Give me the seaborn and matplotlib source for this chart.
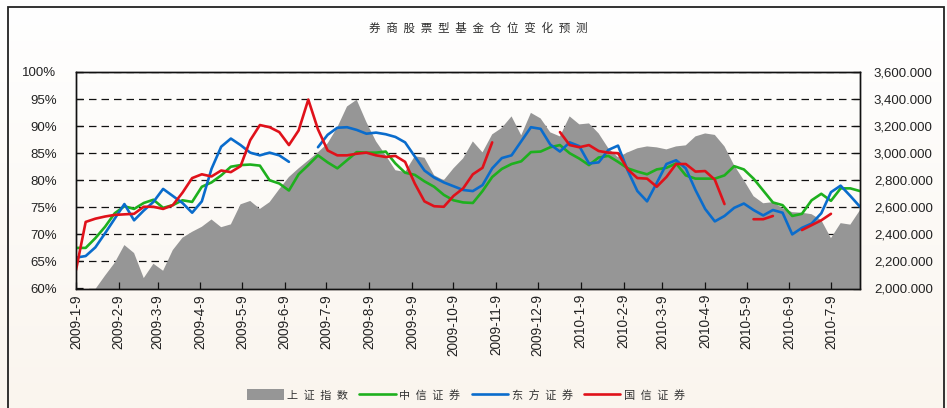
import numpy as np
import pandas as pd
import matplotlib
matplotlib.use("Agg")
import matplotlib.pyplot as plt
import seaborn as sns
from matplotlib.patches import Patch, Rectangle
from matplotlib.lines import Line2D

nan = np.nan

# ---------------- data ----------------
weeks = pd.date_range("2009-01-09", "2010-07-30", freq="W-FRI")

sh_index = [1900, 1950, 1995, 2095, 2190, 2321, 2262, 2077, 2183, 2131,
            2284, 2375, 2419, 2456, 2510, 2453, 2474, 2622, 2647, 2588,
            2638, 2734, 2824, 2888, 2947, 3006, 3073, 3191, 3345, 3395,
            3230, 3087, 2984, 2874, 2861, 2977, 2966, 2837, 2800, 2888,
            2962, 3087, 3006, 3139, 3187, 3272, 3132, 3298, 3257, 3154,
            3124, 3272, 3213, 3220, 3146, 3036, 2970, 3006, 3036, 3050,
            3043, 3028, 3050, 3058, 3124, 3146, 3135, 3050, 2910, 2800,
            2682, 2630, 2638, 2593, 2564, 2560, 2549, 2505, 2372, 2483,
            2472, 2579]

citic = [67.5, 67.5, 69.3, 71.4, 73.9, 75.2, 74.7, 75.8, 76.4, 74.9,
         75.4, 76.3, 76.0, 78.8, 79.6, 80.9, 82.5, 82.8, 82.9, 82.7,
         80.0, 79.4, 78.1, 81.1, 82.8, 84.6, 83.3, 82.2, 83.7, 85.2,
         85.1, 85.1, 85.3, 83.1, 81.4, 81.0, 79.8, 78.8, 77.3, 76.3,
         75.9, 75.8, 78.0, 80.6, 82.1, 83.0, 83.5, 85.2, 85.3, 86.1,
         86.5, 85.0, 84.0, 82.8, 84.2, 84.5, 83.4, 82.2, 81.6, 81.1,
         82.0, 82.3, 83.1, 80.9, 80.3, 80.3, 80.3, 80.9, 82.6, 82.0,
         80.3, 78.1, 75.9, 75.4, 73.4, 73.8, 76.3, 77.5, 76.2, 78.5,
         78.5, 78.0]

orient = [65.7, 66.0, 67.6, 70.2, 72.9, 75.6, 72.6, 74.4, 76.0, 78.4,
          77.1, 75.8, 74.0, 76.1, 82.1, 86.2, 87.7, 86.5, 85.1, 84.6,
          85.1, 84.6, 83.4, nan, nan, 86.1, 88.4, 89.7, 89.8, 89.3,
          88.6, 88.8, 88.5, 88.0, 87.0, 84.4, 81.8, 80.5, 79.6, 78.9,
          78.2, 78.0, 79.1, 82.2, 84.1, 84.6, 87.2, 89.8, 89.5, 86.6,
          85.3, 87.0, 86.3, 83.1, 83.3, 85.6, 86.4, 81.8, 78.0, 76.1,
          79.5, 83.0, 83.7, 82.2, 78.2, 74.7, 72.4, 73.4, 74.9, 75.7,
          74.5, 73.5, 74.5, 74.0, 70.0, 71.2, 72.0, 73.9, 77.8, 79.0,
          77.1, 75.1]

guosen = [63.4, 72.3, 72.9, 73.3, 73.6, 73.7, 73.8, 75.1, 75.1, 74.7,
          75.4, 77.7, 80.4, 81.1, 80.7, 81.8, 81.5, 82.6, 87.4, 90.2,
          89.8, 88.9, 86.5, 89.2, 94.9, 89.4, 85.5, 84.6, 84.6, 84.9,
          85.1, 84.6, 84.3, 84.5, 83.4, 79.4, 76.1, 75.2, 75.1, 77.1,
          78.5, 81.1, 82.3, 87.0, nan, nan, nan, nan, nan, nan,
          88.9, 86.5, 86.1, 86.5, 85.4, 85.1, 85.0, 82.0, 80.4, 80.3,
          78.8, 80.6, 83.0, 83.0, 81.6, 81.7, 80.1, 75.6, nan, nan,
          72.8, 72.8, 73.4, nan, nan, 70.8, 71.7, 72.6, 73.8, nan,
          nan, nan]

tick_dates = ["2009-01-09", "2009-02-09", "2009-03-09", "2009-04-09", "2009-05-09",
              "2009-06-09", "2009-07-09", "2009-08-09", "2009-09-09", "2009-10-09",
              "2009-11-09", "2009-12-09", "2010-01-09", "2010-02-09", "2010-03-09",
              "2010-04-09", "2010-05-09", "2010-06-09", "2010-07-09"]
tick_labels = ["2009-1-9", "2009-2-9", "2009-3-9", "2009-4-9", "2009-5-9",
               "2009-6-9", "2009-7-9", "2009-8-9", "2009-9-9", "2009-10-9",
               "2009-11-9", "2009-12-9", "2010-1-9", "2010-2-9", "2010-3-9",
               "2010-4-9", "2010-5-9", "2010-6-9", "2010-7-9"]

title = "券商股票型基金仓位变化预测"
legend_names = ["上证指数", "中信证券", "东方证券", "国信证券"]
colors = {"gray": "#969696", "green": "#1EB01E", "blue": "#0A6CCC", "red": "#E0111A"}

# ---------------- style ----------------
sns.set_theme(style="white")
plt.rcParams["font.family"] = ["Liberation Sans", "DejaVu Sans"]
CJK = ["Noto Sans CJK SC", "DejaVu Sans"]

W, H = 947, 408
fig = plt.figure(figsize=(W / 100, H / 100), dpi=100)

# soft vertical background gradient (white -> cream)
bg = fig.add_axes([0, 0, 1, 1], zorder=-10)
top = np.array([255, 255, 255]) / 255
bot = np.array([250, 245, 238]) / 255
t = np.linspace(0, 1, 256)[:, None]
grad = (top[None, :] * (1 - t) + bot[None, :] * t)[:, None, :]
bg.imshow(grad, aspect="auto", extent=[0, 1, 0, 1])
bg.axis("off")

# outer frame
fig.add_artist(Rectangle((8 / W, -0.05), (944 - 8) / W, 1.05 - 7 / H,
                         transform=fig.transFigure, fill=False,
                         edgecolor="#222222", lw=1.3))

L, R, T, B = 76, 860, 72, 288.5
ax2 = fig.add_axes([L / W, 1 - B / H, (R - L) / W, (B - T) / H])
ax = ax2.twinx()
ax.xaxis.set_visible(True)
ax.yaxis.tick_left()
ax.yaxis.set_label_position("left")
ax2.yaxis.tick_right()
ax2.yaxis.set_label_position("right")
ax.set_zorder(ax2.get_zorder() + 1)
ax.patch.set_visible(False)
ax2.patch.set_visible(False)

# gray area (index, right axis)
ax2.fill_between(weeks, sh_index, 0, color=colors["gray"], lw=0, zorder=1)
ax2.set_ylim(2000, 3600)
ax2.set_yticks(range(2000, 3601, 200))
ax2.set_yticklabels([f"{v:,.3f}" for v in range(2000, 3601, 200)])
ax2.set_axisbelow(True)
ax2.yaxis.grid(True, color="#111111", lw=0.9, linestyle=(0, (6, 4)))
ax2.xaxis.grid(False)

LW = 1.9

# lines (percent, left axis)
def draw(vals, color):
    df = pd.DataFrame({"date": weeks, "val": vals})
    df["seg"] = df["val"].isna().cumsum()
    df = df.dropna()
    sns.lineplot(data=df, x="date", y="val", units="seg", estimator=None,
                 color=color, lw=LW, ax=ax, legend=False)

draw(citic, colors["green"])
draw(orient, colors["blue"])
draw(guosen, colors["red"])

ax.set_ylim(60, 100)
ax.set_yticks(range(60, 101, 5))
ax.set_yticklabels([f"{v}%" for v in range(60, 101, 5)])
ax.set_xlim(weeks[0], weeks[-1])
ax.set_xticks(pd.to_datetime(tick_dates))
ax.set_xticklabels(tick_labels, rotation=90, va="top", ha="center")
ax.set_xlabel("")
ax.set_ylabel("")
ax2.set_ylabel("")
ax2.set_xlabel("")
ax.grid(False)

for a in (ax, ax2):
    for s in a.spines.values():
        s.set_visible(True)
        s.set_color("#111111")
        s.set_linewidth(1.0)

ax.tick_params(axis="y", direction="in", length=5, width=0.9, color="#111111",
               pad=14, labelsize=9.5, labelcolor="#222222", left=True, right=False)
ax2.tick_params(axis="y", direction="in", length=5, width=0.9, color="#111111",
                pad=10, labelsize=9.5, labelcolor="#222222", right=True, left=False)
ax.tick_params(axis="x", direction="in", length=5, width=0.9, color="#111111",
               pad=4, labelsize=9.8, labelcolor="#222222", bottom=True,
               labelbottom=True, top=False, labeltop=False)
ax2.tick_params(axis="x", bottom=False, labelbottom=False)

sp = "\u2002"
fig.text(478 / W, 1 - 28 / H, sp.join(title), ha="center", va="center",
         fontsize=8.3, family=CJK, color="#2a2a2a")

handles = [Patch(facecolor=colors["gray"], edgecolor="none"),
           Line2D([], [], color=colors["green"], lw=LW),
           Line2D([], [], color=colors["blue"], lw=LW),
           Line2D([], [], color=colors["red"], lw=LW)]
fig.legend(handles, [sp.join(n) for n in legend_names], loc="center",
           bbox_to_anchor=(466 / W, 1 - 395 / H), ncol=4, frameon=False,
           prop={"family": CJK, "size": 8}, handlelength=3.3, handleheight=1.1,
           handletextpad=0.3, columnspacing=1.0, labelcolor="#333333")

fig.savefig("out.png", dpi=100)
